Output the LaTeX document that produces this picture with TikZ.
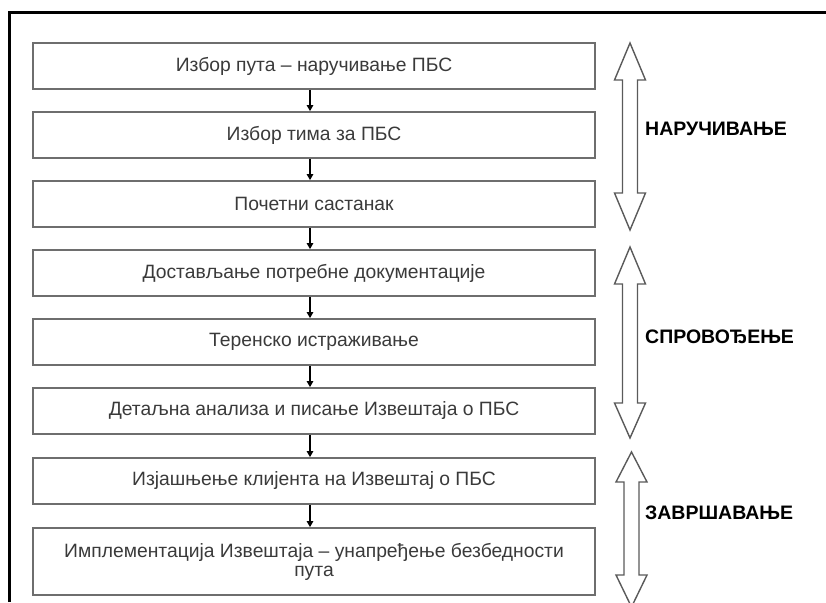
\documentclass[tikz,border=0pt]{standalone}
\usepackage{fontspec}
\setmainfont{Liberation Sans}
\usetikzlibrary{arrows.meta}
\definecolor{boxgray}{HTML}{6E6E6E}
\definecolor{txtgray}{HTML}{3A3A3A}
\definecolor{arrgray}{HTML}{5A5A5A}
\newcommand\dblarrow[5]{% x, top tip, bottom tip, top head len, bottom head len
  \draw[dbl] (#1,#2) -- (#1+15.5,#2+#4) -- (#1+7.5,#2+#4) -- (#1+7.5,#3-#5)
    -- (#1+15.5,#3-#5) -- (#1,#3) -- (#1-15.5,#3-#5) -- (#1-7.5,#3-#5)
    -- (#1-7.5,#2+#4) -- (#1-15.5,#2+#4) -- cycle;}
\begin{document}
\begin{tikzpicture}[x=1pt,y=-1pt,
  stepbox/.style={draw=boxgray, line width=1.8pt, minimum width=562pt,
    minimum height=46pt, inner sep=0pt, text=txtgray, align=center,
    font=\fontsize{19.3}{19}\selectfont},
  flow/.style={draw=black, line width=1.2pt, -{Triangle[length=6pt,width=6.5pt]}},
  phase/.style={font=\bfseries\fontsize{19.5}{20}\selectfont, anchor=west,
    inner sep=0pt, text=black},
  dbl/.style={draw=arrgray, line width=1.4pt, fill=white}]
\useasboundingbox (0,0) rectangle (826,602);
\draw[line width=3pt] (9.5,602) -- (9.5,12.5) -- (826,12.5);
\node[stepbox] (b1) at (314,66) {Избор пута – наручивање ПБС};
\node[stepbox] (b2) at (314,135) {Избор тима за ПБС};
\node[stepbox] (b3) at (314,204) {Почетни састанак};
\node[stepbox] (b4) at (314,273) {Достављање потребне документације};
\node[stepbox] (b5) at (314,342) {Теренско истраживање};
\node[stepbox] (b6) at (314,411) {Детаљна анализа и писање Извештаја о ПБС};
\node[stepbox] (b7) at (314,481) {Изјашњење клијента на Извештај о ПБС};
\node[stepbox, minimum height=67pt] (b8) at (314,561.5) {Имплементација Извештаја – унапређење безбедности\\пута};
\foreach \a/\b in {b1/b2,b2/b3,b3/b4,b4/b5,b5/b6,b6/b7,b7/b8}
  \draw[flow] ([xshift=-4pt]\a.south) -- ([xshift=-4pt]\b.north);
\dblarrow{630}{43}{230}{37}{37}
\dblarrow{630}{247}{438}{37}{35}
\dblarrow{631.5}{452}{607}{30}{32}
\node[phase] (p1) at (645,129) {НАРУЧИВАЊЕ};
\node[phase] (p2) at (645,337) {СПРОВОЂЕЊЕ};
\node[phase] (p3) at (645,513) {ЗАВРШАВАЊЕ};
\end{tikzpicture}
\end{document}
